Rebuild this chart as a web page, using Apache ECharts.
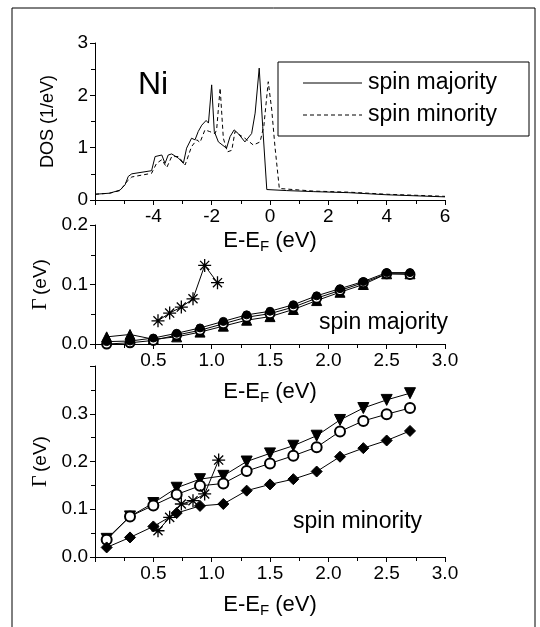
<!doctype html>
<html>
<head>
<meta charset="UTF-8">
<title>Ni DOS and linewidth</title>
<script src="https://cdn.jsdelivr.net/npm/echarts@6/dist/echarts.min.js"></script>
<style>
  html, body { margin: 0; padding: 0; background: #fff; }
  #chart { width: 540px; height: 627px; }
</style>
</head>
<body>
<div id="chart"></div>
<script>
// DOS panel (energy in eV, DOS in 1/eV)
var dosMajE = [-6, -5.5, -5.14, -4.97, -4.86, -4.74, -4.06, -3.94, -3.71, -3.6, -3.49, -3.37, -3.14, -2.97, -2.86, -2.69, -2.57, -2.46, -2.34, -2.19, -2.11, -2.0, -1.91, -1.77, -1.49, -1.37, -1.23, -1.09, -0.86, -0.63, -0.51, -0.37, -0.25, -0.11, 0.57, 1.5, 2.7, 4, 6];
var dosMaj  = [0.11, 0.13, 0.19, 0.29, 0.45, 0.5, 0.56, 0.83, 0.86, 0.70, 0.86, 0.88, 0.80, 0.70, 0.99, 1.18, 1.15, 1.31, 1.43, 1.52, 1.47, 2.2, 1.31, 1.11, 0.99, 1.21, 1.34, 1.27, 1.11, 1.27, 1.66, 2.52, 1.40, 0.2, 0.18, 0.16, 0.14, 0.1, 0.06];
var dosMinE = [-6, -5.5, -5.14, -4.91, -4.74, -4.06, -3.89, -3.71, -3.54, -3.37, -3.14, -2.91, -2.69, -2.51, -2.4, -2.23, -2.08, -1.89, -1.83, -1.71, -1.6, -1.46, -1.31, -1.2, -1.03, -0.86, -0.57, -0.34, -0.21, -0.06, 0.06, 0.17, 0.32, 1.5, 2.7, 4, 6];
var dosMin  = [0.11, 0.13, 0.18, 0.35, 0.44, 0.51, 0.70, 0.77, 0.62, 0.83, 0.83, 0.67, 1.02, 1.15, 1.1, 1.34, 1.31, 1.27, 1.34, 2.14, 1.18, 0.92, 0.95, 1.31, 1.24, 1.18, 1.05, 1.11, 1.42, 2.26, 1.72, 1.02, 0.22, 0.17, 0.15, 0.11, 0.07];

// linewidth panels
var energies = [0.1, 0.3, 0.5, 0.7, 0.9, 1.1, 1.3, 1.5, 1.7, 1.9, 2.1, 2.3, 2.5, 2.7];
var majTri    = [0.012, 0.016, 0.008, 0.012, 0.020, 0.030, 0.040, 0.046, 0.058, 0.073, 0.087, 0.100, 0.118, 0.118];
var majCircle = [0.000, 0.002, 0.006, 0.015, 0.023, 0.034, 0.045, 0.051, 0.062, 0.077, 0.090, 0.103, 0.118, 0.117];
var majDot    = [0.004, 0.005, 0.010, 0.018, 0.027, 0.038, 0.049, 0.055, 0.066, 0.081, 0.093, 0.105, 0.120, 0.120];
var majStarE  = [0.54, 0.64, 0.74, 0.84, 0.94, 1.05];
var majStar   = [0.039, 0.052, 0.062, 0.076, 0.132, 0.103];

var minTri     = [0.038, 0.085, 0.113, 0.145, 0.163, 0.170, 0.200, 0.217, 0.233, 0.254, 0.287, 0.312, 0.329, 0.343];
var minCircle  = [0.036, 0.085, 0.108, 0.131, 0.149, 0.154, 0.180, 0.196, 0.212, 0.230, 0.263, 0.285, 0.299, 0.312];
var minDiamond = [0.020, 0.041, 0.064, 0.092, 0.107, 0.111, 0.139, 0.152, 0.163, 0.179, 0.210, 0.228, 0.244, 0.264];
var minStarE   = [0.54, 0.64, 0.74, 0.84, 0.94, 1.06];
var minStar    = [0.055, 0.083, 0.111, 0.118, 0.132, 0.203];

var legendNames = ['spin majority', 'spin minority'];

function pairs(xs, ys) {
  var out = [];
  for (var i = 0; i < xs.length; i++) out.push([xs[i], ys[i]]);
  return out;
}

var FONT = 'Liberation Sans';
var star = 'path://M0,5L10,5M5,0L5,10M1.5,1.5L8.5,8.5M8.5,1.5L1.5,8.5';
var axisLine = { onZero: false, lineStyle: { color: '#000', width: 1 } };
var tick = { length: 5, lineStyle: { color: '#000' } };
var minor = { show: true, splitNumber: 2, length: 4, lineStyle: { color: '#000' } };
var lbl = { color: '#000', fontSize: 19, fontFamily: FONT, margin: 7 };
var xName = '{a|E-E}{s|F}{a| (eV)}';
var xRich = {
  a: { fontSize: 22, fontFamily: FONT, color: '#000', lineHeight: 26 },
  s: { fontSize: 15, fontFamily: FONT, color: '#000', verticalAlign: 'bottom', lineHeight: 26, padding: [12, 0, 0, 0] }
};
var gName = '{g|Γ} {a|(eV)}';
var gRich = {
  g: { fontSize: 20, fontFamily: 'Liberation Serif', color: '#000' },
  a: { fontSize: 19, fontFamily: FONT, color: '#000' }
};

function fmt1(v) { return v.toFixed(1); }

function lineSeries(name, xi, data, symbol, size, extra) {
  var s = {
    name: name, type: 'line', xAxisIndex: xi, yAxisIndex: xi, data: data,
    symbol: symbol, symbolSize: size,
    lineStyle: { color: '#000', width: 1 },
    itemStyle: { color: '#000', borderColor: '#000', borderWidth: 1 },
    animation: false
  };
  for (var k in extra) s[k] = extra[k];
  return s;
}

var chart = echarts.init(document.getElementById('chart'));
var option = {
  backgroundColor: '#fff',
  animation: false,
  grid: [
    { left: 95, width: 350, top: 43, height: 157 },
    { left: 95, width: 350, top: 225, height: 119 },
    { left: 95, width: 350, top: 366, height: 191 }
  ],
  xAxis: [
    { gridIndex: 0, type: 'value', min: -6, max: 6, interval: 2, axisLine: axisLine, axisTick: tick, minorTick: minor,
      splitLine: { show: false }, axisLabel: Object.assign({}, lbl, { showMinLabel: false }),
      name: xName, nameLocation: 'middle', nameGap: 26, nameTextStyle: { rich: xRich } },
    { gridIndex: 1, type: 'value', min: 0, max: 3, interval: 0.5, axisLine: axisLine, axisTick: tick, minorTick: minor,
      splitLine: { show: false }, axisLabel: Object.assign({}, lbl, { showMinLabel: false, formatter: fmt1 }),
      name: xName, nameLocation: 'middle', nameGap: 35, nameTextStyle: { rich: xRich } },
    { gridIndex: 2, type: 'value', min: 0, max: 3, interval: 0.5, axisLine: axisLine, axisTick: tick, minorTick: minor,
      splitLine: { show: false }, axisLabel: Object.assign({}, lbl, { showMinLabel: false, formatter: fmt1 }),
      name: xName, nameLocation: 'middle', nameGap: 35, nameTextStyle: { rich: xRich } }
  ],
  yAxis: [
    { gridIndex: 0, type: 'value', min: 0, max: 3, interval: 1, axisLine: axisLine, axisTick: tick, minorTick: minor,
      splitLine: { show: false }, axisLabel: lbl,
      name: 'DOS (1/eV)', nameLocation: 'middle', nameGap: 38,
      nameTextStyle: { fontSize: 18, fontFamily: FONT, color: '#000' } },
    { gridIndex: 1, type: 'value', min: 0, max: 0.2, interval: 0.1, axisLine: axisLine, axisTick: tick, minorTick: minor,
      splitLine: { show: false }, axisLabel: Object.assign({}, lbl, { formatter: fmt1 }),
      name: gName, nameLocation: 'middle', nameGap: 38, nameTextStyle: { rich: gRich } },
    { gridIndex: 2, type: 'value', min: 0, max: 0.4, interval: 0.1, axisLine: axisLine, axisTick: tick, minorTick: minor,
      splitLine: { show: false }, axisLabel: Object.assign({}, lbl, { showMaxLabel: false, formatter: fmt1 }),
      name: gName, nameLocation: 'middle', nameGap: 38, nameTextStyle: { rich: gRich } }
  ],
  graphic: [
    { type: 'rect', shape: { x: 12, y: 8, width: 523, height: 640 }, style: { fill: 'none', stroke: '#000', lineWidth: 1 } },
    // legend box
    { type: 'rect', shape: { x: 278, y: 62, width: 251, height: 74 }, style: { fill: '#fff', stroke: '#000', lineWidth: 1 }, z: 10 },
    { type: 'line', shape: { x1: 303, y1: 83, x2: 362, y2: 83 }, style: { stroke: '#000', lineWidth: 1 }, z: 11 },
    { type: 'line', shape: { x1: 303, y1: 115, x2: 362, y2: 115 }, style: { stroke: '#000', lineWidth: 1, lineDash: [4, 3] }, z: 11 },
    { type: 'text', x: 368, y: 83, z: 11, style: { text: legendNames[0], font: '23px "Liberation Sans"', fill: '#000', verticalAlign: 'middle' } },
    { type: 'text', x: 368, y: 115, z: 11, style: { text: legendNames[1], font: '23px "Liberation Sans"', fill: '#000', verticalAlign: 'middle' } },
    { type: 'text', x: 138, y: 85, style: { text: 'Ni', font: '32px "Liberation Sans"', fill: '#000', verticalAlign: 'middle' } },
    { type: 'text', x: 319, y: 323, style: { text: 'spin majority', font: '23px "Liberation Sans"', fill: '#000', verticalAlign: 'middle' } },
    { type: 'text', x: 293, y: 522, style: { text: 'spin minority', font: '23px "Liberation Sans"', fill: '#000', verticalAlign: 'middle' } }
  ],
  series: [
    lineSeries(legendNames[0], 0, pairs(dosMajE, dosMaj), 'none', 0, {}),
    lineSeries(legendNames[1], 0, pairs(dosMinE, dosMin), 'none', 0, { lineStyle: { color: '#000', width: 1, type: [4, 3] } }),

    lineSeries('maj tri', 1, pairs(energies, majTri), 'triangle', 10, {}),
    lineSeries('maj circle', 1, pairs(energies, majCircle), 'emptyCircle', 9, {}),
    lineSeries('maj dot', 1, pairs(energies, majDot), 'circle', 8, {}),
    lineSeries('maj star', 1, pairs(majStarE, majStar), star, 13, { itemStyle: { color: '#000', borderColor: '#000', borderWidth: 1.3 } }),

    lineSeries('min tri', 2, pairs(energies, minTri), 'triangle', 11, { symbolRotate: 180 }),
    lineSeries('min circle', 2, pairs(energies, minCircle), 'emptyCircle', 10, {}),
    lineSeries('min diamond', 2, pairs(energies, minDiamond), 'diamond', 11, {}),
    lineSeries('min star', 2, pairs(minStarE, minStar), star, 13, { itemStyle: { color: '#000', borderColor: '#000', borderWidth: 1.3 } })
  ]
};
chart.setOption(option);
</script>
</body>
</html>
